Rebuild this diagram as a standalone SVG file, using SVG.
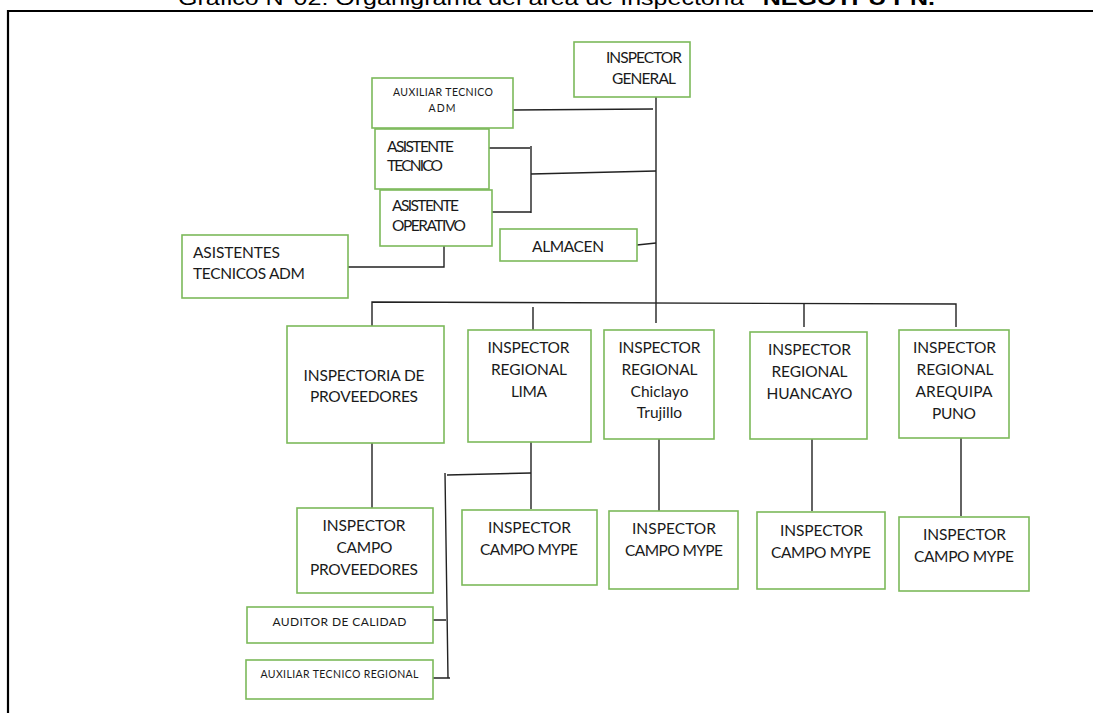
<svg xmlns="http://www.w3.org/2000/svg" width="1093" height="713" viewBox="0 0 1093 713">
<style>
.box{fill:#fff;stroke:#7cb95a;stroke-width:1.6}
.t{font-family:Lato,"Open Sans",sans-serif;fill:#1a1a1a;text-anchor:middle}
.l{text-anchor:start}
.s16{font-size:15.5px}
.s11{font-size:10.5px}
.s12{font-size:12px}
.c{fill:none;stroke:#222;stroke-width:1.4}
.frame{fill:none;stroke:#000;stroke-width:2.2}
</style>
<rect width="1093" height="713" fill="#fff"/>
<text x="178" y="5" font-family="'Liberation Sans',Arial,sans-serif" font-size="20" fill="#000" textLength="757" lengthAdjust="spacingAndGlyphs">Gráfico N°02: Organigrama del área de Inspectoría <tspan font-weight="bold">"NEGOTPU PN.</tspan></text>
<path class="frame" d="M8 713 V11 H1093"/>

<g id="connectors">
<path class="c" d="M656 97 V323"/>
<path class="c" d="M513 110 L653 109"/>
<path class="c" d="M489 148 H530 M531 146 V213 M492 212 H531 M531 174 L656 171"/>
<path class="c" d="M637 245 L656 243"/>
<path class="c" d="M444 246 V267 H345"/>
<path class="c" d="M372 326 V302 L956 304 V327"/>
<path class="c" d="M533 307 V330"/>
<path class="c" d="M804 304 V327"/>
<path class="c" d="M372 443 V508"/>
<path class="c" d="M531 442 V509"/>
<path class="c" d="M531 473 L447 475 M445 473 L448 678"/>
<path class="c" d="M433 620 H446 M428 678 H450"/>
<path class="c" d="M659 439 V512"/>
<path class="c" d="M812 439 V511"/>
<path class="c" d="M961 438 V516"/>
</g>

<g id="inspector-general">
<rect class="box" x="574" y="42" width="116" height="55"/>
<text class="t s16" x="644" y="63" textLength="76">INSPECTOR</text>
<text class="t s16" x="644" y="84" textLength="64">GENERAL</text>
</g>
<g id="auxiliar-tecnico-adm">
<rect class="box" x="372" y="78" width="141" height="50"/>
<text class="t s11" x="443" y="96" textLength="100">AUXILIAR TECNICO</text>
<text class="t s11" x="442" y="111.5" textLength="27">ADM</text>
</g>
<g id="asistente-tecnico">
<rect class="box" x="375" y="129" width="114" height="60"/>
<text class="t l s16" x="387" y="151.5" textLength="67">ASISTENTE</text>
<text class="t l s16" x="387" y="171" textLength="56">TECNICO</text>
</g>
<g id="asistente-operativo">
<rect class="box" x="380" y="190" width="112" height="56"/>
<text class="t l s16" x="392" y="210.5" textLength="67">ASISTENTE</text>
<text class="t l s16" x="392" y="231" textLength="74">OPERATIVO</text>
</g>
<g id="almacen">
<rect class="box" x="500" y="229" width="137" height="32"/>
<text class="t s16" x="568" y="251.5" textLength="72">ALMACEN</text>
</g>
<g id="asistentes-tecnicos-adm">
<rect class="box" x="182" y="235" width="166" height="63"/>
<text class="t l s16" x="193" y="257.5" textLength="87">ASISTENTES</text>
<text class="t l s16" x="193" y="279" textLength="112">TECNICOS ADM</text>
</g>
<g id="inspectoria-proveedores">
<rect class="box" x="287" y="326" width="157" height="117"/>
<text class="t s16" x="364" y="380.5" textLength="121">INSPECTORIA DE</text>
<text class="t s16" x="364" y="401.5" textLength="108">PROVEEDORES</text>
</g>
<g id="regional-lima">
<rect class="box" x="468" y="330" width="123" height="112"/>
<text class="t s16" x="528.5" y="353" textLength="82">INSPECTOR</text>
<text class="t s16" x="529" y="375" textLength="76">REGIONAL</text>
<text class="t s16" x="529" y="396.5" textLength="36">LIMA</text>
</g>
<g id="regional-chiclayo">
<rect class="box" x="604" y="330" width="110" height="109"/>
<text class="t s16" x="659.5" y="353" textLength="82">INSPECTOR</text>
<text class="t s16" x="659.5" y="375" textLength="76">REGIONAL</text>
<text class="t s16" x="659.5" y="396.5">Chiclayo</text>
<text class="t s16" x="659.5" y="418">Trujillo</text>
</g>
<g id="regional-huancayo">
<rect class="box" x="750" y="332" width="117" height="107"/>
<text class="t s16" x="809.5" y="355" textLength="83">INSPECTOR</text>
<text class="t s16" x="809.5" y="377" textLength="76">REGIONAL</text>
<text class="t s16" x="809.5" y="399" textLength="86">HUANCAYO</text>
</g>
<g id="regional-arequipa">
<rect class="box" x="899" y="330" width="110" height="108"/>
<text class="t s16" x="954.5" y="353" textLength="83">INSPECTOR</text>
<text class="t s16" x="955" y="375" textLength="77">REGIONAL</text>
<text class="t s16" x="954" y="396.5" textLength="77">AREQUIPA</text>
<text class="t s16" x="954" y="419" textLength="44">PUNO</text>
</g>
<g id="campo-proveedores">
<rect class="box" x="297" y="508" width="136" height="85"/>
<text class="t s16" x="364" y="531" textLength="83">INSPECTOR</text>
<text class="t s16" x="364.5" y="553" textLength="56">CAMPO</text>
<text class="t s16" x="364" y="575" textLength="108">PROVEEDORES</text>
</g>
<g id="campo-lima">
<rect class="box" x="462" y="510" width="135" height="75"/>
<text class="t s16" x="529.5" y="532.5" textLength="83">INSPECTOR</text>
<text class="t s16" x="529" y="555" textLength="98">CAMPO MYPE</text>
</g>
<g id="campo-chiclayo">
<rect class="box" x="609" y="511" width="129" height="78"/>
<text class="t s16" x="674" y="534" textLength="84">INSPECTOR</text>
<text class="t s16" x="674" y="556" textLength="98">CAMPO MYPE</text>
</g>
<g id="campo-huancayo">
<rect class="box" x="757" y="512" width="128" height="77"/>
<text class="t s16" x="821.5" y="536" textLength="83">INSPECTOR</text>
<text class="t s16" x="821" y="558" textLength="100">CAMPO MYPE</text>
</g>
<g id="campo-arequipa">
<rect class="box" x="899" y="517" width="130" height="74"/>
<text class="t s16" x="964.5" y="540" textLength="83">INSPECTOR</text>
<text class="t s16" x="964" y="562" textLength="100">CAMPO MYPE</text>
</g>
<g id="auditor-calidad">
<rect class="box" x="247" y="607" width="186" height="36"/>
<text class="t s12" x="339.5" y="625.5" textLength="134">AUDITOR DE CALIDAD</text>
</g>
<g id="auxiliar-tecnico-regional">
<rect class="box" x="246" y="660" width="187" height="39"/>
<text class="t s11" x="339.5" y="678" textLength="158">AUXILIAR TECNICO REGIONAL</text>
</g>
</svg>
